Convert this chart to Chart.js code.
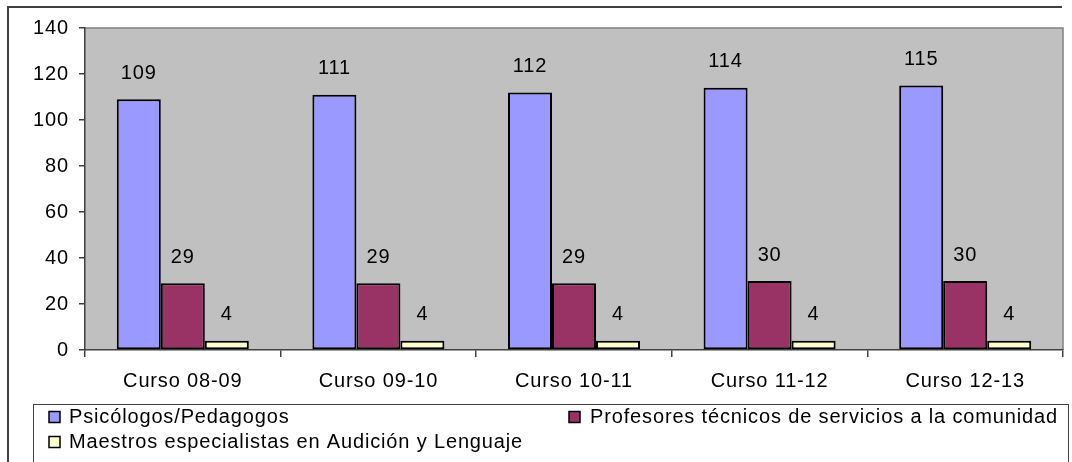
<!DOCTYPE html>
<html><head><meta charset="utf-8">
<script src="https://cdn.jsdelivr.net/npm/chart.js@4"></script>
<style>html,body{margin:0;padding:0;background:#fff}#wrap{width:1072px;height:462px;position:relative}</style>
</head><body><div id="wrap"><canvas id="c" width="1072" height="462"></canvas></div>
<script>
const categories = ["Curso 08-09","Curso 09-10","Curso 10-11","Curso 11-12","Curso 12-13"];
const psicologos = [109,111,112,114,115];
const profesores = [29,29,29,30,30];
const maestros = [4,4,4,4,4];
const seriesNames = ["Psicólogos/Pedagogos","Profesores técnicos de servicios a la comunidad","Maestros especialistas en Audición y Lenguaje"];
const seriesColors = ["#9999FF","#993366","#FFFFCC"];
const yMin = 0, yMax = 140, yStep = 20;

const FONT = {family: "'Liberation Sans', Arial, sans-serif", size: 20};
const fontStr = FONT.size + "px " + FONT.family;
const SPACING = '0.85px';

const plotBg = {
  id: 'plotBg',
  beforeDraw(chart) {
    const {ctx, chartArea: a} = chart;
    ctx.letterSpacing = SPACING;
    ctx.save();
    ctx.fillStyle = '#C0C0C0';
    ctx.fillRect(a.left, a.top, a.right - a.left, a.bottom - a.top);
    ctx.strokeStyle = '#808080';
    ctx.lineWidth = 1.5;
    ctx.beginPath();
    ctx.moveTo(a.left, a.top); ctx.lineTo(a.right, a.top); ctx.lineTo(a.right, a.bottom);
    ctx.stroke();
    // outer chart border
    ctx.strokeStyle = '#404040';
    ctx.lineWidth = 2;
    ctx.beginPath();
    ctx.moveTo(8, 462); ctx.lineTo(8, 7); ctx.lineTo(1062, 7);
    ctx.stroke();
    ctx.restore();
  }
};

const valueLabels = {
  id: 'valueLabels',
  afterDatasetsDraw(chart) {
    const ctx = chart.ctx;
    ctx.save();
    ctx.letterSpacing = SPACING;
    ctx.font = fontStr;
    ctx.fillStyle = '#000';
    ctx.textAlign = 'center';
    ctx.textBaseline = 'middle';
    chart.data.datasets.forEach((ds, i) => {
      chart.getDatasetMeta(i).data.forEach((bar, j) => {
        ctx.fillText(String(ds.data[j]), bar.x, bar.y - 26);
      });
    });
    ctx.restore();
  }
};

const customLegend = {
  id: 'customLegend',
  afterDraw(chart) {
    const ctx = chart.ctx;
    ctx.save();
    ctx.letterSpacing = SPACING;
    ctx.strokeStyle = '#404040';
    ctx.lineWidth = 1;
    ctx.strokeRect(33.5, 404.5, 1035, 80);
    ctx.font = fontStr;
    ctx.textBaseline = 'middle';
    const pos = [[49, 69, 417], [569, 590, 417], [49, 69, 442]];
    chart.data.datasets.forEach((ds, i) => {
      const [sx, tx, cy] = pos[i];
      ctx.fillStyle = ds.backgroundColor;
      ctx.fillRect(sx, cy - 5.5, 11, 11);
      ctx.strokeStyle = '#000';
      ctx.lineWidth = 1.5;
      ctx.strokeRect(sx, cy - 5.5, 11, 11);
      ctx.fillStyle = '#000';
      ctx.fillText(ds.label, tx, cy);
    });
    ctx.restore();
  }
};

new Chart(document.getElementById('c'), {
  type: 'bar',
  data: {
    labels: categories,
    datasets: [
      {label: seriesNames[0], data: psicologos, backgroundColor: seriesColors[0]},
      {label: seriesNames[1], data: profesores, backgroundColor: seriesColors[1]},
      {label: seriesNames[2], data: maestros, backgroundColor: seriesColors[2]}
    ].map(d => Object.assign(d, {borderColor: '#000', borderWidth: 2, borderSkipped: false, categoryPercentage: 0.675, barPercentage: 1}))
  },
  options: {
    responsive: false,
    animation: false,
    devicePixelRatio: 1,
    layout: {padding: {top: 28, right: 9, bottom: 72, left: 0}},
    plugins: {legend: {display: false}, tooltip: {enabled: false}},
    scales: {
      x: {
        offset: true,
        grid: {offset: true, drawOnChartArea: false, drawTicks: true, tickLength: 7, color: '#404040', lineWidth: 1.5},
        border: {color: '#404040', width: 1.5},
        ticks: {font: FONT, color: '#000', padding: 12, maxRotation: 0},
        afterFit(s) { s.height = 40; }
      },
      y: {
        min: yMin, max: yMax,
        grid: {drawOnChartArea: false, drawTicks: true, tickLength: 6, color: '#404040', lineWidth: 1.5},
        border: {color: '#404040', width: 1.5},
        ticks: {stepSize: yStep, font: FONT, color: '#000', padding: 10},
        afterFit(s) { s.width = 85; }
      }
    }
  },
  plugins: [plotBg, valueLabels, customLegend]
});
</script>
</body></html>
